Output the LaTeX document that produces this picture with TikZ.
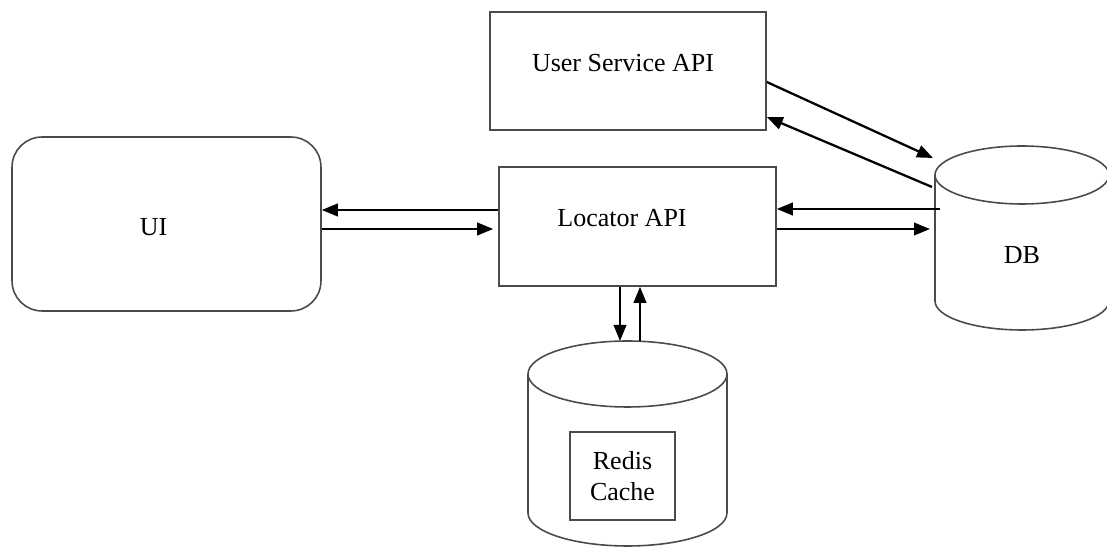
\documentclass[tikz,border=0pt]{standalone}
\usepackage{fontspec}
\setmainfont{Liberation Serif}
\usetikzlibrary{arrows.meta}
\begin{document}
\begin{tikzpicture}[x=0.02cm,y=-0.02cm,
  apibox/.style={draw=edge,line width=0.9pt,minimum width=5.52cm,minimum height=2.36cm},
  uibox/.style={draw=edge,line width=0.9pt,rounded corners=0.6cm,minimum width=6.18cm,minimum height=3.48cm},
  flow/.style={line width=1.3pt,-{Triangle[length=0.32cm,width=0.25cm]}},
  every node/.style={font=\fontsize{14.8}{18}\selectfont}]
\definecolor{edge}{HTML}{4A4A4A}
\useasboundingbox (0,0) rectangle (1107,550);
\node [uibox,label={[xshift=-0.26cm,yshift=-0.06cm]center:UI}] (ui) at (166.5,224) {};
\node [apibox,label={[xshift=-0.1cm,yshift=0.16cm]center:User Service API}] (usr) at (628,71) {};
\node [apibox,minimum width=5.54cm,minimum height=2.38cm,
       label={[xshift=-0.31cm,yshift=0.17cm]center:Locator API}] (loc) at (637.5,226.5) {};
% DB cylinder
\draw [edge,line width=0.9pt] (1022,175) ellipse [x radius=1.74cm,y radius=0.58cm];
\draw [edge,line width=0.9pt] (935,175) -- (935,301)
  arc [start angle=180,end angle=360,x radius=1.74cm,y radius=0.58cm] -- (1109,175);
\node (db) at (1022,255) {DB};
% Redis cylinder
\draw [edge,line width=0.9pt] (627.5,374) ellipse [x radius=1.99cm,y radius=0.66cm];
\draw [edge,line width=0.9pt] (528,374) -- (528,513)
  arc [start angle=180,end angle=360,x radius=1.99cm,y radius=0.66cm] -- (727,374);
\node [draw=edge,line width=0.9pt,minimum width=2.1cm,minimum height=1.76cm,align=center]
  (redis) at (622.5,476) {Redis\\Cache};
\coordinate (dbin) at (930,229);
\coordinate (dbout) at (940,209);
\coordinate (dbtop) at (933,158);
\coordinate (dbback) at (932,187);
\coordinate (cachein) at (620,341);
\coordinate (cacheout) at (640,341);
% arrows
\draw [flow] (loc.west |- 0,210) -- (ui.east |- 0,210);
\draw [flow] (ui.east |- 0,229) -- ([xshift=-0.1cm]loc.west |- 0,229);
\draw [flow] (dbout) -- (loc.east |- 0,209);
\draw [flow] (loc.east |- 0,229) -- (dbin);
\draw [flow] (usr.east |- 0,82) -- (dbtop);
\draw [flow] (dbback) -- (usr.east |- 0,117);
\draw [flow] (loc.south -| 620,0) -- (cachein);
\draw [flow] (cacheout) -- (loc.south -| 640,0);
\end{tikzpicture}
\end{document}
